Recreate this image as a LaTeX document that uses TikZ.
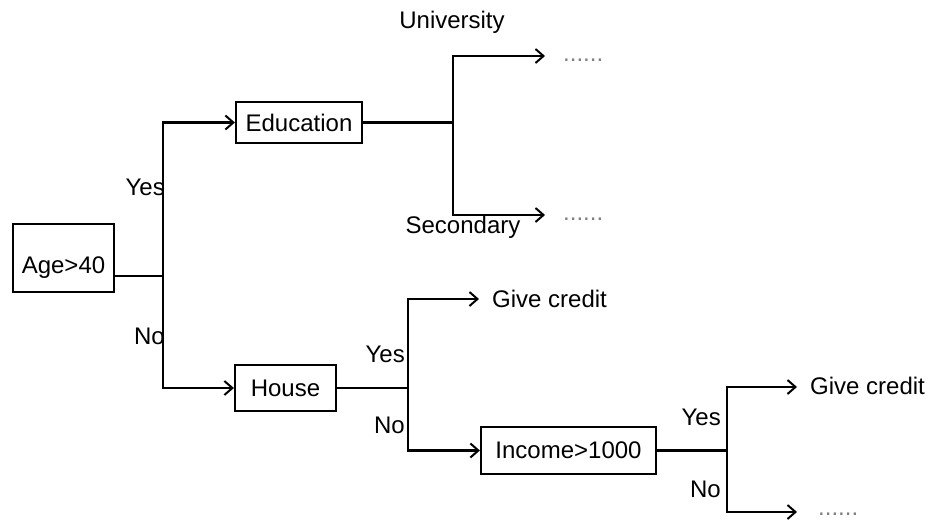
\documentclass[tikz,border=0pt]{standalone}
\usepackage{fontspec}
\setmainfont{Liberation Sans}
\usetikzlibrary{arrows.meta,positioning}

\begin{document}
\begin{tikzpicture}[x=1pt, y=-1pt,
        every node/.style={font=\fontsize{24}{28}\selectfont, inner sep=0pt},
        decision/.style={draw, line width=2.2pt, rectangle},
        branch/.style={line width=2.4pt},
        arrowed/.style={branch, -{Straight Barb[length=8pt, width=14pt, line width=2pt]}},
        more/.style={anchor=base west, text=gray}]
        \useasboundingbox (0,0) rectangle (933,520);

        % Decision boxes
        \node[decision, minimum width=101pt, minimum height=68pt, text height=36pt] (age) at (63.5,258) {Age>40};
        \node[decision, minimum width=126pt, minimum height=41pt] (edu) at (299,122.5) {Education};
        \node[decision, minimum width=101pt, minimum height=46pt] (house) at (285.5,388) {House};
        \node[decision, minimum width=175pt, minimum height=47pt] (income) at (568.5,450.5) {Income>1000};

        % Split points
        \coordinate (splitage) at (163,276);
        \coordinate (splitedu) at (453,122.5);
        \coordinate (splithouse) at (408,388);
        \coordinate (splitinc) at (727,450.5);

        % Free arrow ends
        \coordinate (uniend) at (545,56);
        \coordinate (secend) at (545,215);
        \coordinate (credit1end) at (479,299);
        \coordinate (credit2end) at (797,387);
        \coordinate (lowend) at (797,512);

        % Leaves
        \node[anchor=west] (credit1) at (492,299) {Give credit};
        \node[anchor=west] (credit2) at (810,386) {Give credit};
        \node[more] (dotsuni) at (563,61) {......};
        \node[more] (dotssec) at (563,220) {......};
        \node[more] (dotslow) at (818,515) {......};

        % Branch labels
        \node (university) at (452,22) {University};
        \node (secondary) at (463,227) {Secondary};
        \node[anchor=east] (yesage) at (165,187) {Yes};
        \node[anchor=east] (noage) at (165,336) {No};
        \node[anchor=east] (yeshouse) at (405,354) {Yes};
        \node[anchor=east] (nohouse) at (405,425) {No};
        \node[anchor=east] (yesinc) at (721,417) {Yes};
        \node[anchor=east] (noinc) at (721,489) {No};

        % Connectors
        \draw[branch] (age.east |- splitage) -- (splitage);
        \draw[arrowed] (splitage) |- (edu.west);
        \draw[arrowed] (splitage) |- (house.west);

        \draw[branch] (edu.east) -- (splitedu);
        \draw[arrowed] (splitedu) |- (uniend);
        \draw[arrowed] (splitedu) |- (secend);

        \draw[branch] (house.east) -- (splithouse);
        \draw[arrowed] (splithouse) |- (credit1end);
        \draw[arrowed] (splithouse) |- (income.west);

        \draw[branch] (income.east) -- (splitinc);
        \draw[arrowed] (splitinc) |- (credit2end);
        \draw[arrowed] (splitinc) |- (lowend);
    \end{tikzpicture}
\end{document}
